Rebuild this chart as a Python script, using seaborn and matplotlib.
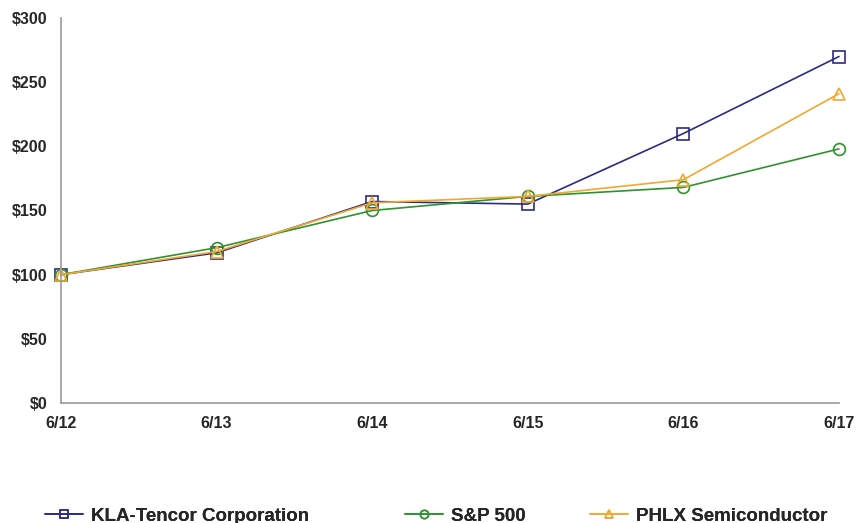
import pandas as pd
import matplotlib.pyplot as plt
from matplotlib.lines import Line2D
import seaborn as sns

# 累積リターン（$100 投資）
dates = ["6/12", "6/13", "6/14", "6/15", "6/16", "6/17"]
kla = [100, 117, 157, 155, 210, 270]
sp500 = [100, 121, 150, 161, 168, 198]
phlx = [100, 118, 156, 161, 174, 241]

names = ["KLA-Tencor Corporation", "S&P 500", "PHLX Semiconductor"]
colors = ["#2b2b86", "#2e932e", "#f2a730"]
markers = ["s", "o", "^"]

sns.set_style("white")
plt.rcParams['font.family'] = ['Liberation Sans', 'DejaVu Sans']

fig = plt.figure(figsize=(8.56, 5.23), dpi=100)
ax = fig.add_axes([61 / 856, 1 - 403 / 523, (839 - 61) / 856, (403 - 18) / 523])

for name, vals, c, m in zip(names, [kla, sp500, phlx], colors, markers):
    df = pd.DataFrame({'x': range(len(dates)), 'y': vals})
    sns.lineplot(data=df, x='x', y='y', ax=ax, color=c, marker=m, markersize=8.5,
                 markerfacecolor='none', markeredgecolor=c, markeredgewidth=1.2,
                 linewidth=1.2, legend=False, clip_on=False)

ax.set_xlim(0, len(dates) - 1)
ax.set_ylim(0, 300)
ax.set_xticks(range(len(dates)))
ax.set_xticklabels(dates, fontweight='bold', fontsize=11.5)
ax.set_yticks(range(0, 301, 50))
ax.set_yticklabels([f"${v}" for v in range(0, 301, 50)], fontweight='bold', fontsize=11.5)
ax.set_xlabel('')
ax.set_ylabel('')

for s in ['top', 'right']:
    ax.spines[s].set_visible(False)
for s in ['left', 'bottom']:
    ax.spines[s].set_color('#999999')
    ax.spines[s].set_linewidth(1.2)
ax.tick_params(axis='y', direction='out', length=4, color='#999999', pad=5.5)
ax.tick_params(axis='x', direction='in', length=4, color='#999999', pad=9)

# 凡例：3項目を個別に配置
leg_x = [45, 405, 590]
for name, c, m, x in zip(names, colors, markers, leg_x):
    h = Line2D([], [], color=c, marker=m, markersize=6, markerfacecolor='none',
               markeredgecolor=c, markeredgewidth=1.1, linewidth=1.2)
    lg = fig.legend([h], [name], loc='center left', bbox_to_anchor=(x / 856, 1 - 516 / 523),
                    frameon=False, borderpad=0, borderaxespad=0, handlelength=2.0,
                    handletextpad=0.45, prop={'weight': 'bold', 'size': 13.5})
    fig.add_artist(lg)

plt.savefig("out.png", dpi=100)
